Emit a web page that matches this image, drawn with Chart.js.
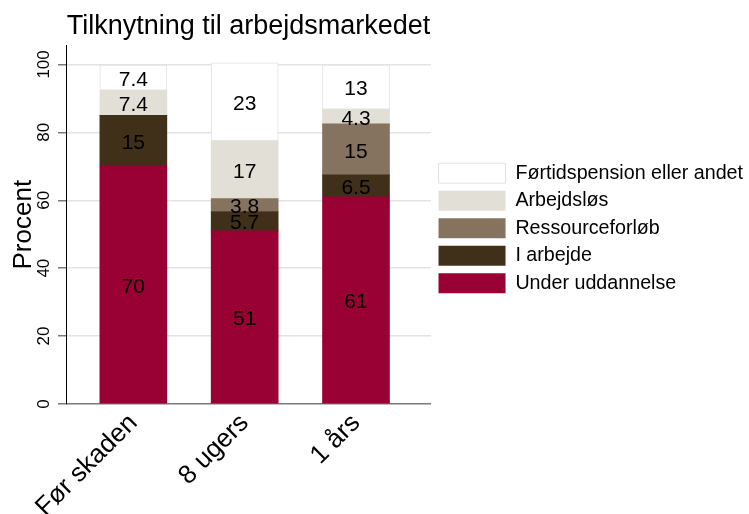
<!DOCTYPE html>
<html>
<head>
<meta charset="utf-8">
<script src="https://cdn.jsdelivr.net/npm/chart.js@4.4.1/dist/chart.umd.min.js"></script>
<style>
html,body{margin:0;padding:0;background:#fff;}
</style>
</head>
<body>
<canvas id="grafico" width="749" height="514"></canvas>
<script>
const kategorier = ["Før skaden", "8 ugers", "1 års"];
const underUddannelse = [70, 51, 61];
const iArbejde = [15, 5.7, 6.5];
const ressourceforlob = [0, 3.8, 15];
const arbejdslos = [7.4, 17, 4.3];
const fortidspension = [7.4, 23, 13];
const yTicks = [0, 20, 40, 60, 80, 100];

Chart.defaults.font.family = "'Liberation Sans', Arial, sans-serif";
Chart.defaults.color = "#000";

function punkter(vals){
  return vals.map((v,i)=>({x:i, y:v}));
}

// skriv tallene midt i hver del af søjlen
const tekstPaaSoejler = {
  id: "tekstPaaSoejler",
  afterDatasetsDraw(chart){
    const ctx = chart.ctx;
    ctx.save();
    ctx.font = "21px 'Liberation Sans', Arial, sans-serif";
    ctx.fillStyle = "#000";
    ctx.textAlign = "center";
    ctx.textBaseline = "middle";
    chart.data.datasets.forEach((ds,i)=>{
      chart.getDatasetMeta(i).data.forEach((bar,j)=>{
        const v = ds.data[j].y;
        if(!v) return;
        const p = bar.getCenterPoint();
        ctx.fillText(String(v), p.x, p.y + 2.5);
      });
    });
    ctx.restore();
  }
};

new Chart(document.getElementById("grafico"),{
  type:"bar",
  data:{
    datasets:[
      {label:"Under uddannelse", data:punkter(underUddannelse), backgroundColor:"#990033", borderWidth:0},
      {label:"I arbejde", data:punkter(iArbejde), backgroundColor:"#40301a", borderWidth:0},
      {label:"Ressourceforløb", data:punkter(ressourceforlob), backgroundColor:"#85735f", borderWidth:0},
      {label:"Arbejdsløs", data:punkter(arbejdslos), backgroundColor:"#e2dfd6", borderWidth:0},
      {label:"Førtidspension eller andet", data:punkter(fortidspension), backgroundColor:"#ffffff",
       borderColor:"#e2e2e2", borderWidth:1, borderSkipped:false}
    ]
  },
  options:{
    responsive:false,
    animation:false,
    datasets:{bar:{barThickness:67}},
    layout:{padding:{right:-4}},
    plugins:{
      tooltip:{enabled:false},
      title:{
        display:true,
        text:"Tilknytning til arbejdsmarkedet",
        fullSize:false,
        color:"#000",
        font:{size:27, weight:"normal"},
        padding:{top:10, bottom:3}
      },
      legend:{
        position:"right",
        fullSize:false,
        reverse:true,
        maxWidth:340,
        title:{display:true, text:" ", font:{size:7, lineHeight:1}, padding:0},
        labels:{boxWidth:67, boxHeight:20, padding:7.5, color:"#000", font:{size:19.7}}
      }
    },
    scales:{
      x:{
        type:"linear",
        stacked:true,
        offset:false,
        min:-0.605,
        max:2.674,
        afterBuildTicks:s=>{ s.ticks = kategorier.map((_,i)=>({value:i})); },
        afterFit:s=>{ s.height = 110; },
        grid:{display:false, drawTicks:false},
        border:{display:false},
        ticks:{autoSkip:false, minRotation:45, maxRotation:45, padding:4, color:"#000",
               font:{size:26}, callback:v=>kategorier[v]}
      },
      y:{
        stacked:true,
        min:0,
        max:105.6,
        afterBuildTicks:s=>{ s.ticks = yTicks.map(v=>({value:v})); },
        afterFit:s=>{ s.width = 66; },
        grid:{
          color:c=>(c.tick && c.tick.value===0) ? "#7a7a7a" : "#e3e3e3",
          lineWidth:1.5,
          tickLength:8,
          tickColor:"#7a7a7a"
        },
        border:{display:true, color:"#000", width:1},
        ticks:{minRotation:90, maxRotation:90, crossAlign:"center", padding:0, color:"#000", font:{size:17}},
        title:{display:true, text:"Procent", color:"#000", font:{size:26}, padding:{top:8, bottom:0}}
      }
    }
  },
  plugins:[tekstPaaSoejler]
});
</script>
</body>
</html>
